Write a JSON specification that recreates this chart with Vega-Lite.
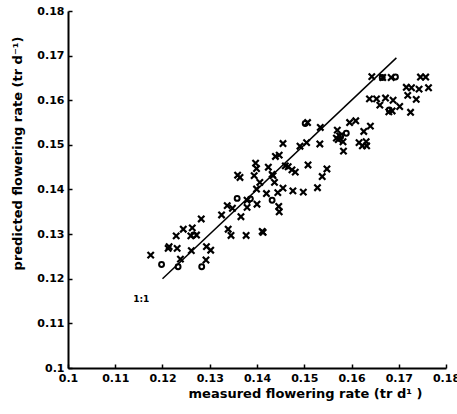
{
  "$schema": "https://vega.github.io/schema/vega-lite/v6.json",
  "autosize": "none",
  "width": 378,
  "height": 357,
  "padding": {"left": 68, "top": 11, "right": 11, "bottom": 46},
  "background": "white",
  "config": {"view": {"stroke": null}},
  "datasets": {
    "pts": [
      {"m": 0.1175, "p": 0.1253, "t": "x"},
      {"m": 0.1229, "p": 0.1296, "t": "x"},
      {"m": 0.1244, "p": 0.1311, "t": "x"},
      {"m": 0.1212, "p": 0.1268, "t": "x"},
      {"m": 0.1214, "p": 0.1272, "t": "x"},
      {"m": 0.1231, "p": 0.1268, "t": "x"},
      {"m": 0.1238, "p": 0.1244, "t": "x"},
      {"m": 0.1263, "p": 0.1314, "t": "x"},
      {"m": 0.126, "p": 0.1296, "t": "x"},
      {"m": 0.1261, "p": 0.1263, "t": "x"},
      {"m": 0.1272, "p": 0.1298, "t": "x"},
      {"m": 0.1282, "p": 0.1334, "t": "x"},
      {"m": 0.1293, "p": 0.1272, "t": "x"},
      {"m": 0.1302, "p": 0.1264, "t": "x"},
      {"m": 0.1292, "p": 0.1242, "t": "x"},
      {"m": 0.1325, "p": 0.1343, "t": "x"},
      {"m": 0.1337, "p": 0.1364, "t": "x"},
      {"m": 0.1339, "p": 0.1311, "t": "x"},
      {"m": 0.1345, "p": 0.1297, "t": "x"},
      {"m": 0.1348, "p": 0.1358, "t": "x"},
      {"m": 0.1359, "p": 0.1432, "t": "x"},
      {"m": 0.1364, "p": 0.1427, "t": "x"},
      {"m": 0.1366, "p": 0.1339, "t": "x"},
      {"m": 0.1377, "p": 0.1297, "t": "x"},
      {"m": 0.1379, "p": 0.136, "t": "x"},
      {"m": 0.1379, "p": 0.1376, "t": "x"},
      {"m": 0.1394, "p": 0.1431, "t": "x"},
      {"m": 0.1397, "p": 0.1459, "t": "x"},
      {"m": 0.1399, "p": 0.1447, "t": "x"},
      {"m": 0.1399, "p": 0.1401, "t": "x"},
      {"m": 0.14, "p": 0.1367, "t": "x"},
      {"m": 0.1406, "p": 0.1416, "t": "x"},
      {"m": 0.142, "p": 0.1391, "t": "x"},
      {"m": 0.1413, "p": 0.1304, "t": "x"},
      {"m": 0.1411, "p": 0.1306, "t": "x"},
      {"m": 0.1424, "p": 0.145, "t": "x"},
      {"m": 0.1434, "p": 0.1431, "t": "x"},
      {"m": 0.1432, "p": 0.1434, "t": "x"},
      {"m": 0.1437, "p": 0.1416, "t": "x"},
      {"m": 0.1439, "p": 0.1474, "t": "x"},
      {"m": 0.1447, "p": 0.1477, "t": "x"},
      {"m": 0.1444, "p": 0.1393, "t": "x"},
      {"m": 0.1446, "p": 0.1362, "t": "x"},
      {"m": 0.1447, "p": 0.135, "t": "x"},
      {"m": 0.1455, "p": 0.1503, "t": "x"},
      {"m": 0.1455, "p": 0.1403, "t": "x"},
      {"m": 0.146, "p": 0.1453, "t": "x"},
      {"m": 0.1466, "p": 0.1451, "t": "x"},
      {"m": 0.1474, "p": 0.1444, "t": "x"},
      {"m": 0.1476, "p": 0.1397, "t": "x"},
      {"m": 0.1481, "p": 0.1439, "t": "x"},
      {"m": 0.1491, "p": 0.1497, "t": "x"},
      {"m": 0.1498, "p": 0.1394, "t": "x"},
      {"m": 0.1507, "p": 0.155, "t": "x"},
      {"m": 0.1505, "p": 0.1505, "t": "x"},
      {"m": 0.1508, "p": 0.1455, "t": "x"},
      {"m": 0.1528, "p": 0.1404, "t": "x"},
      {"m": 0.1533, "p": 0.1502, "t": "x"},
      {"m": 0.1534, "p": 0.1539, "t": "x"},
      {"m": 0.1538, "p": 0.1429, "t": "x"},
      {"m": 0.1548, "p": 0.1446, "t": "x"},
      {"m": 0.157, "p": 0.1533, "t": "x"},
      {"m": 0.1568, "p": 0.1515, "t": "x"},
      {"m": 0.1575, "p": 0.152, "t": "x"},
      {"m": 0.1572, "p": 0.1512, "t": "x"},
      {"m": 0.1582, "p": 0.1507, "t": "x"},
      {"m": 0.1583, "p": 0.1486, "t": "x"},
      {"m": 0.1596, "p": 0.155, "t": "x"},
      {"m": 0.1609, "p": 0.1554, "t": "x"},
      {"m": 0.1616, "p": 0.1505, "t": "x"},
      {"m": 0.1623, "p": 0.1498, "t": "x"},
      {"m": 0.1626, "p": 0.153, "t": "x"},
      {"m": 0.1631, "p": 0.1507, "t": "x"},
      {"m": 0.1632, "p": 0.1498, "t": "x"},
      {"m": 0.164, "p": 0.1542, "t": "x"},
      {"m": 0.1643, "p": 0.1653, "t": "x"},
      {"m": 0.1638, "p": 0.1603, "t": "x"},
      {"m": 0.1653, "p": 0.1603, "t": "x"},
      {"m": 0.166, "p": 0.1589, "t": "x"},
      {"m": 0.1672, "p": 0.1605, "t": "x"},
      {"m": 0.1679, "p": 0.1574, "t": "x"},
      {"m": 0.1686, "p": 0.1576, "t": "x"},
      {"m": 0.1688, "p": 0.16, "t": "x"},
      {"m": 0.1702, "p": 0.1586, "t": "x"},
      {"m": 0.1684, "p": 0.1651, "t": "x"},
      {"m": 0.1666, "p": 0.1651, "t": "x"},
      {"m": 0.1716, "p": 0.1629, "t": "x"},
      {"m": 0.1719, "p": 0.1611, "t": "x"},
      {"m": 0.1725, "p": 0.1573, "t": "x"},
      {"m": 0.1727, "p": 0.1628, "t": "x"},
      {"m": 0.1737, "p": 0.1602, "t": "x"},
      {"m": 0.1743, "p": 0.1625, "t": "x"},
      {"m": 0.1746, "p": 0.1652, "t": "x"},
      {"m": 0.1757, "p": 0.1652, "t": "x"},
      {"m": 0.1763, "p": 0.1628, "t": "x"},
      {"m": 0.1198, "p": 0.1232, "t": "o"},
      {"m": 0.1233, "p": 0.1227, "t": "o"},
      {"m": 0.1283, "p": 0.1227, "t": "o"},
      {"m": 0.1358, "p": 0.138, "t": "o"},
      {"m": 0.1386, "p": 0.1379, "t": "o"},
      {"m": 0.1432, "p": 0.1376, "t": "o"},
      {"m": 0.1502, "p": 0.1548, "t": "o"},
      {"m": 0.1589, "p": 0.1526, "t": "o"},
      {"m": 0.1577, "p": 0.1519, "t": "o"},
      {"m": 0.1693, "p": 0.1652, "t": "o"},
      {"m": 0.1665, "p": 0.1651, "t": "o"},
      {"m": 0.168, "p": 0.1578, "t": "o"},
      {"m": 0.1266, "p": 0.1298, "t": "o"}
    ],
    "line": [
      {"m": 0.12, "p": 0.12},
      {"m": 0.1695, "p": 0.1695}
    ],
    "lab": [
      {"m": 0.1155, "p": 0.1155, "text": "1:1"}
    ]
  },
  "encoding": {
    "x": {
      "field": "m", "type": "quantitative",
      "scale": {"domain": [0.1, 0.18], "nice": false, "zero": false},
      "axis": {
        "title": "measured flowering rate (tr d¹ )",
        "values": [0.1, 0.11, 0.12, 0.13, 0.14, 0.15, 0.16, 0.17, 0.18],
        "format": ".2~f",
        "grid": false,
        "domainColor": "black", "domainWidth": 2,
        "tickColor": "black", "tickSize": -4, "tickWidth": 1.5,
        "labelPadding": 8,
        "labelFont": "DejaVu Sans", "labelFontWeight": "bold", "labelFontSize": 11, "labelColor": "black",
        "labelFlush": false,
        "titleFont": "DejaVu Sans", "titleFontWeight": "bold", "titleFontSize": 13, "titleColor": "black",
        "titleX": 237, "titleY": 25, "titleBaseline": "middle"
      }
    },
    "y": {
      "field": "p", "type": "quantitative",
      "scale": {"domain": [0.1, 0.18], "nice": false, "zero": false},
      "axis": {
        "title": "predicted flowering rate (tr d⁻¹)",
        "values": [0.1, 0.11, 0.12, 0.13, 0.14, 0.15, 0.16, 0.17, 0.18],
        "format": ".2~f",
        "grid": false,
        "domainColor": "black", "domainWidth": 2,
        "tickColor": "black", "tickSize": -4, "tickWidth": 1.5,
        "labelPadding": 8,
        "labelFont": "DejaVu Sans", "labelFontWeight": "bold", "labelFontSize": 11, "labelColor": "black",
        "labelFlush": false,
        "titleFont": "DejaVu Sans", "titleFontWeight": "bold", "titleFontSize": 13, "titleColor": "black",
        "titleX": -51, "titleY": 142, "titleBaseline": "middle", "titleAngle": -90
      }
    }
  },
  "layer": [
    {
      "data": {"name": "line"},
      "mark": {"type": "line", "color": "black", "strokeWidth": 1.5}
    },
    {
      "data": {"name": "pts"},
      "transform": [{"filter": "datum.t === 'x'"}],
      "mark": {"type": "point", "shape": "M-1,-1L1,1M-1,1L1,-1", "filled": false, "stroke": "black", "strokeWidth": 2.2, "size": 40, "opacity": 1}
    },
    {
      "data": {"name": "pts"},
      "transform": [{"filter": "datum.t === 'o'"}],
      "mark": {"type": "point", "shape": "circle", "filled": false, "stroke": "black", "strokeWidth": 2, "size": 24, "opacity": 1}
    },
    {
      "data": {"name": "lab"},
      "mark": {"type": "text", "font": "DejaVu Sans", "fontWeight": "bold", "fontSize": 9, "color": "black"},
      "encoding": {"text": {"field": "text"}}
    }
  ]
}
